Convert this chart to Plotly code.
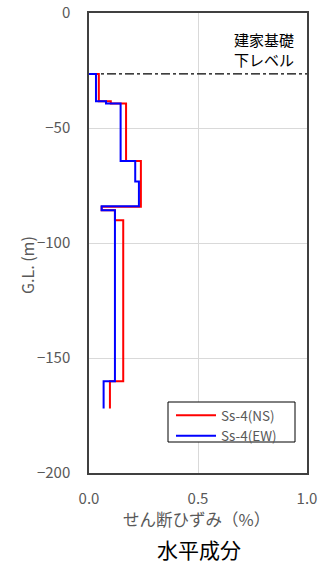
import plotly.graph_objects as go

# 層境界 (G.L. m) とせん断ひずみ (%)
ns_depth = [-26.5, -38.4, -39.3, -64.3, -84.2, -85.8, -90.1, -160.1, -172.0]
ns_strain = [0.045, 0.100, 0.170, 0.238, 0.058, 0.119, 0.157, 0.096]

ew_depth = [-26.5, -38.4, -39.3, -64.3, -73.3, -84.0, -85.8, -160.1, -172.0]
ew_strain = [0.032, 0.078, 0.145, 0.212, 0.229, 0.058, 0.119, 0.067]

base_level = -26.5
x_ticks = [0.0, 0.5, 1.0]
y_ticks = [0, -50, -100, -150, -200]

W, H = 333, 563
L, R, T, B = 89, 26, 13, 90
pw, ph = W - L - R, H - T - B


def step_profile(depth, strain):
    xs, ys = [0.0], [depth[0]]
    for i, s in enumerate(strain):
        xs += [s, s]
        ys += [depth[i], depth[i + 1]]
    return xs, ys


def px(x, y):
    # pixel position -> paper coords
    return (x - L) / pw, (H - B - y) / ph


font_jp = "Noto Sans CJK JP"
grey = "#595959"

fig = go.Figure()

fig.add_trace(go.Scatter(
    x=[0, 1], y=[base_level, base_level], mode="lines",
    line=dict(color="black", width=1.3, dash="dashdot"),
    showlegend=False, hoverinfo="skip"))

x, y = step_profile(ns_depth, ns_strain)
fig.add_trace(go.Scatter(x=x, y=y, mode="lines", name="Ss-4(NS)",
                         line=dict(color="#ff0000", width=2)))
x, y = step_profile(ew_depth, ew_strain)
fig.add_trace(go.Scatter(x=x, y=y, mode="lines", name="Ss-4(EW)",
                         line=dict(color="#0000ff", width=2)))

axis_style = dict(showgrid=True, gridcolor="#d9d9d9", gridwidth=1,
                  showline=True, linecolor="#404040", linewidth=1.5, mirror=True,
                  zeroline=False, ticks="", ticklen=0, automargin=False,
                  tickfont=dict(size=15, color=grey, family=font_jp))
fig.update_xaxes(range=[0, 1], tickvals=x_ticks, ticktext=["0.0", "0.5", "1.0"],
                 ticklabelstandoff=11, **axis_style)
fig.update_yaxes(range=[-200, 0], tickvals=y_ticks, ticklabelstandoff=14, **axis_style)

for label, ypix in [("建家基礎", 39), ("下レベル", 60)]:
    ax, ay = px(232, ypix)
    fig.add_annotation(text=label, x=ax, y=ay, xref="paper", yref="paper",
                       xanchor="left", yanchor="middle", showarrow=False,
                       font=dict(size=15, color="black", family=font_jp))

ax, ay = px(27, 265)
fig.add_annotation(text="G.L. (m)", x=ax, y=ay, xref="paper", yref="paper",
                   xanchor="center", yanchor="middle", showarrow=False, textangle=-90,
                   font=dict(size=16, color=grey, family=font_jp))
ax, ay = px(196, 519)
fig.add_annotation(text="せん断ひずみ（%）", x=ax, y=ay, xref="paper", yref="paper",
                   xanchor="center", yanchor="middle", showarrow=False,
                   font=dict(size=16.5, color=grey, family=font_jp))
ax, ay = px(199, 549)
fig.add_annotation(text="水平成分", x=ax, y=ay, xref="paper", yref="paper",
                   xanchor="center", yanchor="middle", showarrow=False,
                   font=dict(size=21, color="black", family=font_jp))

# legend frame
x0, y1 = px(168, 402)
x1, y0 = px(295, 442)
fig.add_shape(type="rect", xref="paper", yref="paper", x0=x0, x1=x1, y0=y0, y1=y1,
              line=dict(color="black", width=1), fillcolor="white", layer="above")

lx, ly = px(171, 400)
fig.update_layout(
    width=W, height=H,
    margin=dict(l=L, r=R, t=T, b=B),
    paper_bgcolor="white", plot_bgcolor="white",
    font=dict(family=font_jp, color=grey),
    legend=dict(x=lx, y=ly, xanchor="left", yanchor="top",
                borderwidth=0, bgcolor="rgba(0,0,0,0)",
                font=dict(size=13.5, color=grey, family=font_jp),
                tracegroupgap=0, itemwidth=40),
)

fig.write_html("out.html", config={"displayModeBar": False},
               post_script="document.body.style.margin='0';")
